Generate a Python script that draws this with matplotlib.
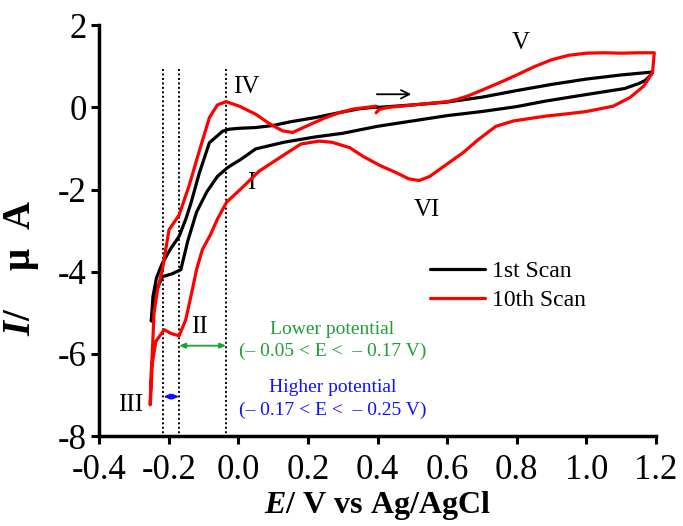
import matplotlib
matplotlib.use("Agg")
import matplotlib.pyplot as plt

plt.rcParams['font.family'] = ['Liberation Serif', 'DejaVu Serif']
plt.rcParams['mathtext.fontset'] = 'custom'
plt.rcParams['mathtext.it'] = 'Liberation Serif:italic:bold'
plt.rcParams['mathtext.rm'] = 'Liberation Serif:bold'

# ---- 1st scan: forward (upper) branch from 0.4 V, return (lower) branch, forward from vertex
scan1_E = [0.40, 0.50, 0.60, 0.70, 0.80, 0.90, 1.00, 1.10, 1.15, 1.19,
           1.187, 1.17, 1.15, 1.11, 1.05, 0.96, 0.88, 0.80, 0.70, 0.60, 0.50, 0.40,
           0.30, 0.22, 0.13, 0.08, 0.05, 0.01, -0.03, -0.06, -0.09, -0.12, -0.145,
           -0.165, -0.19, -0.218, -0.235, -0.25,
           -0.245, -0.235, -0.218, -0.195, -0.17, -0.15, -0.136, -0.112, -0.083,
           -0.064, -0.045, -0.026, 0.00, 0.05, 0.10, 0.15, 0.22, 0.30, 0.35, 0.40]
scan1_I = [0.00, 0.06, 0.13, 0.25, 0.41, 0.56, 0.69, 0.79, 0.83, 0.86,
           0.81, 0.66, 0.58, 0.46, 0.38, 0.26, 0.15, 0.02, -0.10, -0.20, -0.33, -0.46,
           -0.63, -0.72, -0.85, -0.95, -1.01, -1.25, -1.46, -1.68, -2.05, -2.55, -3.25,
           -3.95, -4.05, -4.12, -4.45, -5.2,
           -4.6, -4.15, -3.79, -3.45, -3.14, -2.70, -2.33, -1.60, -0.86,
           -0.72, -0.58, -0.53, -0.51, -0.49, -0.44, -0.35, -0.25, -0.11, -0.03, 0.01]

# ---- 10th scan
scan10_E = [0.396, 0.405, 0.43, 0.48, 0.54, 0.60, 0.63, 0.66, 0.70, 0.75, 0.80,
            0.85, 0.90, 0.95, 1.00, 1.05, 1.10, 1.15, 1.195,
            1.19, 1.165, 1.125, 1.077, 1.00, 0.94, 0.885, 0.79, 0.74, 0.69, 0.646,
            0.598, 0.55, 0.52, 0.49, 0.454, 0.406, 0.36, 0.32, 0.27, 0.233, 0.18,
            0.127, 0.06, 0.003, -0.033, -0.06, -0.08, -0.103, -0.12, -0.131, -0.151,
            -0.17, -0.194, -0.213, -0.237, -0.247, -0.253,
            -0.251, -0.247, -0.242, -0.232, -0.218, -0.199, -0.17, -0.141, -0.112,
            -0.083, -0.06, -0.035, 0.003, 0.051, 0.09, 0.127, 0.156, 0.195, 0.25,
            0.29, 0.33, 0.396]
scan10_I = [-0.13, -0.05, 0.00, 0.04, 0.09, 0.14, 0.20, 0.28, 0.42, 0.60, 0.79,
            0.99, 1.16, 1.27, 1.32, 1.33, 1.32, 1.33, 1.33,
            0.85, 0.52, 0.24, 0.03, -0.10, -0.16, -0.21, -0.33, -0.46, -0.78, -1.10,
            -1.39, -1.68, -1.78, -1.74, -1.59, -1.41, -1.20, -0.98, -0.85, -0.82, -0.89,
            -1.18, -1.55, -2.02, -2.30, -2.72, -3.10, -3.46, -3.95, -4.40, -5.17,
            -5.56, -5.50, -5.41, -5.70, -6.23, -7.24,
            -6.60, -5.98, -5.00, -4.44, -3.95, -2.98, -2.62, -1.90, -1.06,
            -0.25, 0.06, 0.14, 0.03, -0.17, -0.40, -0.57, -0.61, -0.46, -0.25,
            -0.13, -0.04, 0.03]

# boundaries of the potential windows
window_E = [-0.215, -0.17, -0.035]

xticks = [-0.4, -0.2, 0.0, 0.2, 0.4, 0.6, 0.8, 1.0, 1.2]
xtick_labels = ['-0.4', '-0.2', '0.0', '0.2', '0.4', '0.6', '0.8', '1.0', '1.2']
yticks = [-8, -6, -4, -2, 0, 2]
ytick_labels = ['-8', '-6', '-4', '-2', '0', '2']

peak_labels = ['I', 'II', 'III', 'IV', 'V', 'VI']
peak_E = [0.037, -0.112, -0.308, 0.023, 0.812, 0.541]
peak_I = [-1.83, -5.34, -7.24, 0.49, 1.56, -2.49]

fig = plt.figure(figsize=(6.83, 5.26), dpi=100)
ax = fig.add_axes([0.1450, 0.1710, 0.8155, 0.7810])

ax.plot(scan1_E, scan1_I, color='black', lw=2.3, solid_joinstyle='round',
        solid_capstyle='round', label='1st Scan', zorder=3)
ax.plot(scan10_E, scan10_I, color='#ff0000', lw=2.3, solid_joinstyle='round',
        solid_capstyle='round', label='10th Scan', zorder=4)

for e in window_E:
    ax.plot([e, e], [0.93, -8], color='black', lw=1.4, ls=(0, (1, 1.3)), zorder=2)

ax.set_xlim(-0.4, 1.2)
ax.set_ylim(-8, 2)
ax.set_xticks(xticks)
ax.set_xticklabels(xtick_labels)
ax.set_yticks(yticks)
ax.set_yticklabels(ytick_labels)
for s in ['top', 'right']:
    ax.spines[s].set_visible(False)
for s in ['left', 'bottom']:
    ax.spines[s].set_linewidth(2.5)
ax.tick_params(direction='out', length=6, width=2.2, labelsize=25)
ax.tick_params(axis='x', pad=7)
ax.tick_params(axis='y', pad=3)

ax.set_xlabel(r'$E$/ V vs Ag/AgCl', fontsize=23, fontweight='bold')
ax.xaxis.set_label_coords(0.5, -0.13)
ax.set_ylabel(r'$I$/    μ  A', fontsize=28, fontweight='bold')
ax.yaxis.set_label_coords(-0.105, 0.41)

for lab, e, i in zip(peak_labels, peak_E, peak_I):
    ax.text(e, i, lab, fontsize=18, ha='center', va='center')

# scan direction arrow
ax.annotate('', xy=(0.505, 0.32), xytext=(0.39, 0.32),
            arrowprops=dict(arrowstyle='->,head_length=0.6,head_width=0.3',
                            color='black', lw=1.3))

# potential windows
green = '#1f9e3a'
blue = '#1010ff'
ax.annotate('', xy=(window_E[1], -5.80), xytext=(window_E[2], -5.80),
            arrowprops=dict(arrowstyle='<|-|>,head_length=0.35,head_width=0.15',
                            color=green, lw=1.3, shrinkA=0, shrinkB=0))
ax.annotate('', xy=(window_E[0], -7.04), xytext=(window_E[1], -7.04),
            arrowprops=dict(arrowstyle='<|-|>,head_length=0.35,head_width=0.15',
                            color=blue, lw=1.3, shrinkA=0, shrinkB=0))

ax.text(0.27, -5.41, 'Lower potential', color=green, fontsize=14, ha='center', va='center')
ax.text(0.27, -5.95, '(– 0.05 < E <  – 0.17 V)', color=green, fontsize=14,
        ha='center', va='center')
ax.text(0.27, -6.83, 'Higher potential', color=blue, fontsize=14, ha='center', va='center')
ax.text(0.27, -7.37, '(– 0.17 < E <  – 0.25 V)', color=blue, fontsize=14,
        ha='center', va='center')

ax.legend(loc='upper left', bbox_to_anchor=(0.578, 0.45), frameon=False,
          fontsize=17, handlelength=2.3, handletextpad=0.3, labelspacing=0.3,
          borderaxespad=0)

fig.savefig('out.png', dpi=100)
